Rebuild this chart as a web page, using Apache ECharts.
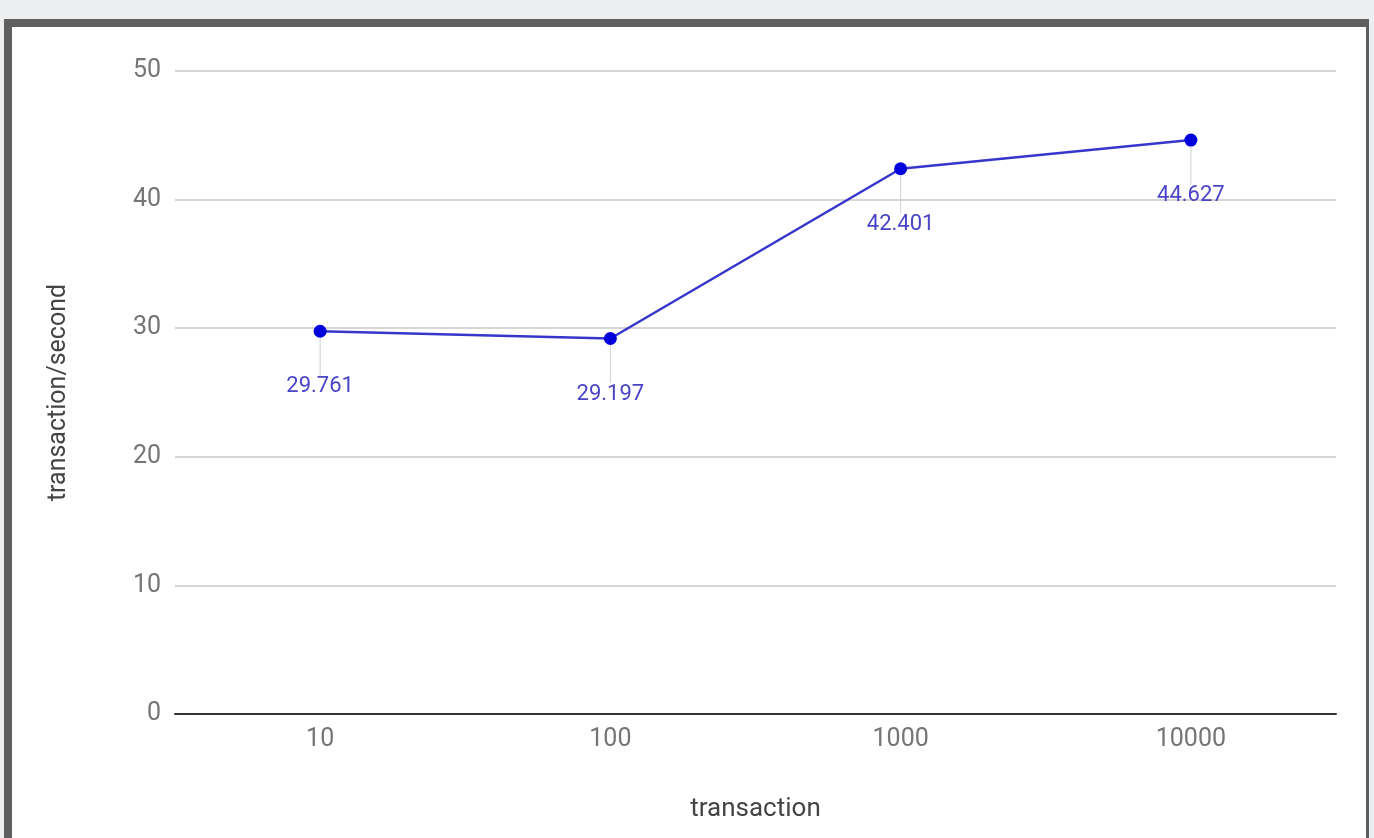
<!DOCTYPE html>
<html>
<head>
<meta charset="utf-8">
<script src="https://cdn.jsdelivr.net/npm/echarts@6/dist/echarts.min.js"></script>
<style>
  html, body { margin: 0; padding: 0; background: #eceef0; width: 1374px; height: 838px; overflow: hidden; }
  #frame { position: absolute; left: 4px; top: 19px; width: 1365px; height: 819px; background: #fff;
           border-left: 8px solid #5f5f5f; border-top: 8px solid #5f5f5f; border-right: 3px solid #5f5f5f; box-sizing: border-box; }
  #chart { position: absolute; left: 0; top: 0; width: 1374px; height: 838px; }
</style>
</head>
<body>
<div id="frame"></div>
<div id="chart"></div>
<script>
// data
const categories = ['10', '100', '1000', '10000'];
const tps = [29.761, 29.197, 42.401, 44.627];

const mychart = echarts.init(document.getElementById('chart'));
mychart.setOption({
  animation: false,
  textStyle: { fontFamily: 'Roboto' },
  grid: { left: 175, right: 38, top: 71, bottom: 124 },
  xAxis: {
    type: 'category',
    data: categories,
    boundaryGap: true,
    name: 'transaction',
    nameLocation: 'middle',
    nameGap: 82,
    nameTextStyle: { fontSize: 26, color: '#444' },
    axisTick: { show: false },
    axisLine: { lineStyle: { color: '#333', width: 2 } },
    axisLabel: { fontSize: 25, color: '#757575', margin: 13 }
  },
  yAxis: {
    type: 'value',
    min: 0,
    max: 50,
    interval: 10,
    name: 'transaction/second',
    nameLocation: 'middle',
    nameGap: 104,
    nameTextStyle: { fontSize: 25, color: '#444' },
    axisLine: { show: false },
    axisTick: { show: false },
    axisLabel: { fontSize: 25, color: '#757575', margin: 14 },
    splitLine: { lineStyle: { color: '#d6d6d6', width: 2 } }
  },
  series: [{
    type: 'line',
    data: tps,
    symbol: 'circle',
    symbolSize: 13,
    itemStyle: { color: '#0000dd' },
    lineStyle: { color: '#3636cc', width: 2.5 },
    label: {
      show: true,
      position: 'bottom',
      distance: 8,
      fontSize: 22,
      color: '#4a44c6'
    },
    labelLayout: { dy: 30 },
    labelLine: { show: true, lineStyle: { color: '#d0d0d0', width: 1 } }
  }]
});
</script>
</body>
</html>
